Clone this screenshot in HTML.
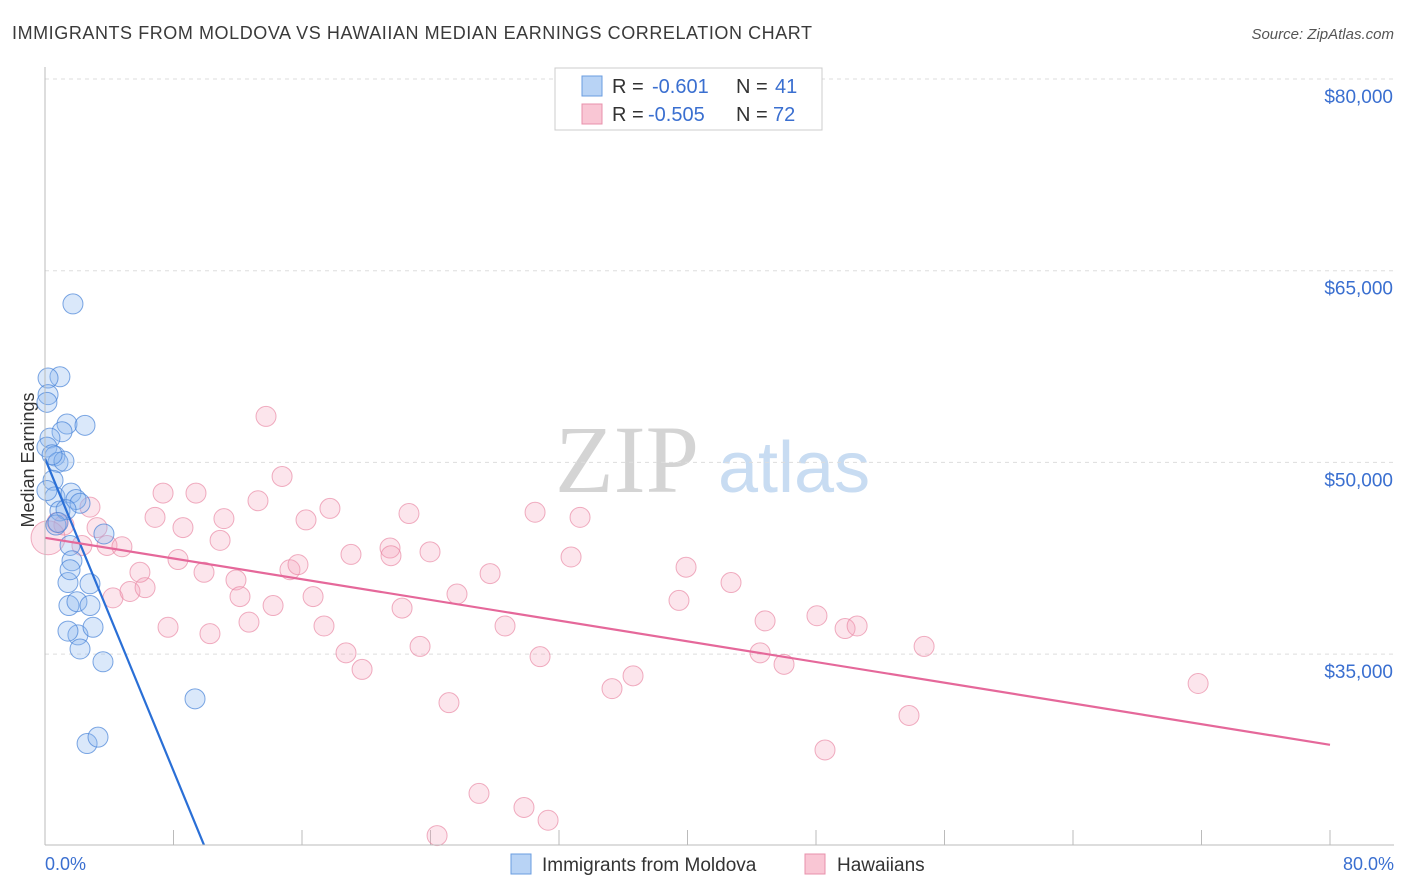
<!DOCTYPE html>
<html><head><meta charset="utf-8"><style>
body{margin:0;background:#fff;font-family:"Liberation Sans",sans-serif;}
svg{display:block}
</style></head><body>
<svg width="1406" height="892" id="c">
<text x="12" y="39" font-size="18" fill="#3a3a3a" textLength="800">IMMIGRANTS FROM MOLDOVA VS HAWAIIAN MEDIAN EARNINGS CORRELATION CHART</text>
<text x="1394" y="39" font-size="15" fill="#555" font-style="italic" text-anchor="end">Source: ZipAtlas.com</text>
<text x="34" y="460" font-size="18" fill="#333" text-anchor="middle" transform="rotate(-90 34 460)">Median Earnings</text>
<text x="555" y="492" font-size="96" fill="#d4d4d4" font-family="Liberation Serif,serif">ZIP</text>
<text x="718" y="492" font-size="72" fill="#c8dcf2">atlas</text>
<g id="grid"></g><g id="pts"></g><g id="lines"></g>
<line x1="45" y1="67" x2="45" y2="845" stroke="#bbb"/>
<line x1="45" y1="845" x2="1394" y2="845" stroke="#bbb"/>
<text x="45" y="870" font-size="18" fill="#3a6fd0">0.0%</text>
<text x="1394" y="870" font-size="18" fill="#3a6fd0" text-anchor="end">80.0%</text>
<g>
<rect x="555" y="68" width="267" height="62" fill="#fff" stroke="#ccc"/>
<rect x="582" y="76" width="20" height="20" fill="#b8d3f5" stroke="#6a9de0"/>
<rect x="582" y="104" width="20" height="20" fill="#f9c6d4" stroke="#e890ab"/>
<text x="612" y="93" font-size="20" fill="#333">R =</text>
<text x="652" y="93" font-size="20" fill="#3a6fd0">-0.601</text>
<text x="736" y="93" font-size="20" fill="#333">N =</text>
<text x="775" y="93" font-size="20" fill="#3a6fd0">41</text>
<text x="612" y="121" font-size="20" fill="#333">R =</text>
<text x="648" y="121" font-size="20" fill="#3a6fd0">-0.505</text>
<text x="736" y="121" font-size="20" fill="#333">N =</text>
<text x="773" y="121" font-size="20" fill="#3a6fd0">72</text>
</g>
<g>
<rect x="511" y="854" width="20" height="20" fill="#b8d3f5" stroke="#6a9de0"/>
<text x="542" y="871" font-size="19" fill="#333">Immigrants from Moldova</text>
<rect x="805" y="854" width="20" height="20" fill="#f9c6d4" stroke="#e890ab"/>
<text x="837" y="871" font-size="19" fill="#333">Hawaiians</text>
</g>
</svg>
<script>
const yTicks=[80,65,50,35];
const yTickLabels=["$80,000","$65,000","$50,000","$35,000"];
const xTicks=[8,16,24,32,40,48,56,64,72,80];
const blueX=[1.74,0.93,0.19,0.19,0.12,1.37,2.49,1.06,0.31,0.12,0.62,0.81,1.18,0.50,0.62,1.62,1.93,2.18,0.93,1.31,0.68,3.67,1.56,1.68,1.43,1.56,2.80,1.49,1.99,2.80,2.05,2.18,2.99,1.43,3.61,9.34,2.62,3.30,0.81,0.12,0.44];
const blueY=[62.4,56.7,56.6,55.3,54.7,53.0,52.9,52.4,51.9,51.2,50.5,50.0,50.1,48.6,47.3,47.6,47.1,46.8,46.2,46.3,45.1,44.4,43.5,42.3,40.6,41.6,40.5,38.8,39.1,38.8,36.5,35.4,37.1,36.8,34.4,31.5,28.0,28.5,45.3,47.8,50.6];
const pinkX=[0.75,1.18,2.80,3.24,2.30,3.86,4.79,4.23,5.29,6.23,5.91,6.85,7.35,7.66,8.28,8.59,9.40,9.90,10.27,11.14,10.90,11.89,12.14,12.70,13.26,13.76,14.20,14.76,15.25,15.75,16.25,16.69,17.37,17.74,18.74,19.05,19.74,21.48,21.54,22.23,22.66,23.35,23.97,25.15,25.65,27.02,27.71,28.64,29.82,30.51,30.82,31.32,24.41,32.75,33.31,35.30,36.61,39.47,39.91,42.71,44.52,44.83,46.01,48.06,48.56,49.81,50.56,53.79,54.73,71.79,0.19];
const pinkY=[45.3,45.1,46.5,44.9,43.5,43.5,43.4,39.4,39.9,40.2,41.4,45.7,47.6,37.1,42.4,44.9,47.6,41.4,36.6,45.6,43.9,40.8,39.5,37.5,47.0,53.6,38.8,48.9,41.6,42.0,45.5,39.5,37.2,46.4,35.1,42.8,33.8,43.3,42.7,38.6,46.0,35.6,43.0,31.2,39.7,24.1,41.3,37.2,23.0,46.1,34.8,22.0,20.8,42.6,45.7,32.3,33.3,39.2,41.8,40.6,35.1,37.6,34.2,38.0,27.5,37.0,37.2,30.2,35.6,32.7,44.1];
const blueLine=[50.3,20.06,9.9];
const pinkLine=[44.1,27.9,80];
const NS="http://www.w3.org/2000/svg";
const X=v=>45+v*1285/80, Y=v=>79+(80-v)*12.78;
function mk(t,a,p){const e=document.createElementNS(NS,t);for(const k in a)e.setAttribute(k,a[k]);p.appendChild(e);return e;}
const grid=document.getElementById('grid'),pts=document.getElementById('pts'),lines=document.getElementById('lines');
yTicks.forEach((t,i)=>{
 const l=mk('line',{x1:45,x2:1394,y1:Y(t),y2:Y(t),stroke:'#ddd','stroke-dasharray':'4,4'},grid);
 
 
 const tx=mk('text',{x:1393,y:Y(t)+24,'font-size':19,fill:'#3a6fd0','text-anchor':'end'},grid);
 tx.textContent=yTickLabels[i];
 
 
});
xTicks.forEach(t=>{
 const l=mk('line',{x1:X(t),x2:X(t),y1:830,y2:845,stroke:'#bbb'},grid);
 
 
});
pinkX.forEach((x,i)=>{
 const big=i===pinkX.length-1;
 const c=mk('circle',{cx:X(x),cy:Y(pinkY[i]),r:big?17:10,fill:'rgba(244,160,186,0.28)',stroke:'rgba(232,130,160,0.65)','stroke-width':1},pts);
 
 
});
blueX.forEach((x,i)=>{
 const c=mk('circle',{cx:X(x),cy:Y(blueY[i]),r:10,fill:'rgba(140,185,240,0.32)',stroke:'rgba(70,130,215,0.7)','stroke-width':1},pts);
 
 
});
const bl=mk('line',{x1:X(0),y1:Y(blueLine[0]),x2:X(blueLine[2]),y2:Y(blueLine[1]),stroke:'#2a6fd6','stroke-width':2.2},lines);


const pl=mk('line',{x1:X(0),y1:Y(pinkLine[0]),x2:X(pinkLine[2]),y2:Y(pinkLine[1]),stroke:'#e5689a','stroke-width':2.2},lines);


</script>
</body></html>
